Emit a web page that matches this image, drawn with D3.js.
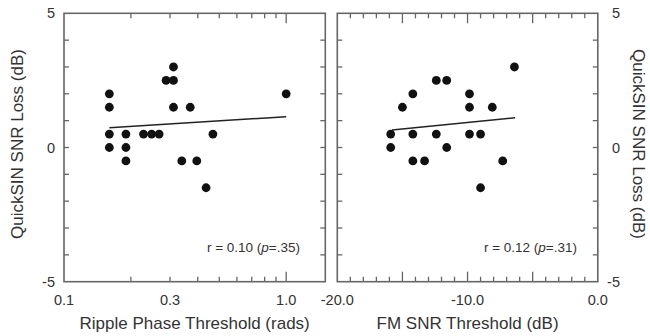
<!DOCTYPE html>
<html><head><meta charset="utf-8">
<script src="https://cdn.jsdelivr.net/npm/d3@7"></script>
<style>
body{margin:0;background:#fff;}
text{font-family:"Liberation Sans",Arial,sans-serif;fill:#333;}
</style></head>
<body>
<svg id="chart" width="650" height="336"></svg>
<script>
// Left panel: Ripple Phase Threshold (rads), log scale
const rippleX = [0.160,0.160,0.160,0.160,0.190,0.190,0.190,0.228,0.248,0.268,0.288,0.311,0.311,0.311,0.370,0.339,0.396,0.436,0.468,1.0];
const rippleY = [2.0,1.5,0.5,0.0,0.5,0.0,-0.5,0.5,0.5,0.5,2.5,2.5,3.0,1.5,1.5,-0.5,-0.5,-1.5,0.5,2.0];
const rippleFitX = [0.16,1.0];
const rippleFitY = [0.74,1.15];
const rippleTicks = [0.2,0.3,0.4,0.5,0.6,0.7,0.8,0.9,1.0];
const rippleMajor = [1.0];
const rippleLabels = [0.1,0.3,1.0];
const rippleStat = "r = 0.10 (";
const rippleP = "=.35)";

// Right panel: FM SNR Threshold (dB), linear
const fmX = [-15.9,-15.9,-15.0,-14.2,-14.2,-14.2,-13.3,-12.4,-12.4,-11.6,-11.6,-9.85,-9.85,-9.85,-9.0,-9.0,-8.1,-7.3,-6.4];
const fmY = [0.5,0.0,1.5,2.0,0.5,-0.5,-0.5,2.5,0.5,2.5,0.0,2.0,1.5,0.5,0.5,-1.5,1.5,-0.5,3.0];
const fmFitX = [-15.8,-6.35];
const fmFitY = [0.65,1.11];
const fmTicks = [-19,-18,-17,-16,-15,-14,-13,-12,-11,-10,-9,-8,-7,-6,-5,-4,-3,-2,-1];
const fmMajor = [-15,-10,-5];
const fmLabels = [-20,-10,0];
const fmStat = "r = 0.12 (";
const fmP = "=.31)";

const yTicks = [-4,-3,-2,-1,0,1,2,3,4];
const yLabels = [-5,0,5];
const yTitle = "QuickSIN SNR Loss (dB)";
const xTitleLeft = "Ripple Phase Threshold (rads)";
const xTitleRight = "FM SNR Threshold (dB)";

const svg = d3.select("#chart");
const plotTop = 13.3, plotBottom = 281.7;
const y = d3.scaleLinear().domain([-5,5]).range([plotBottom, plotTop]);

const xL = d3.scaleLog().domain([0.1,1.5]).range([64,325.3]);
const xR = d3.scaleLinear().domain([-20,0]).range([337.3,597.8]);

const frameColor = "#666";

function panel(x, xs, ys, fitX, fitY, ticks, major, labels, fmt, stat, pstr, xTitle, statX) {
  const [x0,x1] = x.range();
  const g = svg.append("g");
  g.append("rect").attr("x",x0).attr("y",plotTop).attr("width",x1-x0).attr("height",plotBottom-plotTop)
    .attr("fill","none").attr("stroke",frameColor).attr("stroke-width",1.6);
  ticks.forEach(t=>{
    const len = major.includes(t) ? 10 : 5;
    g.append("line").attr("x1",x(t)).attr("x2",x(t)).attr("y1",plotTop).attr("y2",plotTop+len)
      .attr("stroke",frameColor).attr("stroke-width",1.3);
    g.append("line").attr("x1",x(t)).attr("x2",x(t)).attr("y1",plotBottom).attr("y2",plotBottom-len)
      .attr("stroke",frameColor).attr("stroke-width",1.3);
  });
  yTicks.forEach(t=>{
    g.append("line").attr("x1",x0).attr("x2",x0+5).attr("y1",y(t)).attr("y2",y(t))
      .attr("stroke",frameColor).attr("stroke-width",1.3);
    g.append("line").attr("x1",x1).attr("x2",x1-5).attr("y1",y(t)).attr("y2",y(t))
      .attr("stroke",frameColor).attr("stroke-width",1.3);
  });
  labels.forEach(l=>{
    g.append("text").attr("x",x(l)).attr("y",305).attr("text-anchor","middle")
      .attr("font-size",14.5).text(fmt(l));
  });
  g.append("text").attr("x",(x0+x1)/2).attr("y",329).attr("text-anchor","middle")
    .attr("font-size",17).text(xTitle);
  g.append("line").attr("x1",x(fitX[0])).attr("y1",y(fitY[0])).attr("x2",x(fitX[1])).attr("y2",y(fitY[1]))
    .attr("stroke","#222").attr("stroke-width",1.5);
  g.selectAll("circle.d").data(xs.map((v,i)=>[v,ys[i]])).enter().append("circle")
    .attr("cx",d=>x(d[0])).attr("cy",d=>y(d[1])).attr("r",4.4).attr("fill","#111");
  const st = g.append("text").attr("x",statX).attr("y",252).attr("text-anchor","end").attr("font-size",13.5);
  st.append("tspan").text(stat);
  st.append("tspan").attr("font-style","italic").text("p");
  st.append("tspan").text(pstr);
}

panel(xL, rippleX, rippleY, rippleFitX, rippleFitY, rippleTicks, rippleMajor, rippleLabels,
      d=>d3.format(".1f")(d), rippleStat, rippleP, xTitleLeft, 300);
panel(xR, fmX, fmY, fmFitX, fmFitY, fmTicks, fmMajor, fmLabels,
      d=>d3.format(".1f")(d).replace("\u2212","-"), fmStat, fmP, xTitleRight, 577);

yLabels.forEach(l=>{
  svg.append("text").attr("x",55).attr("y",y(l)).attr("dy","0.35em").attr("text-anchor","end")
    .attr("font-size",14.5).text(l);
  svg.append("text").attr("x",620).attr("y",y(l)).attr("dy","0.35em").attr("text-anchor","end")
    .attr("font-size",14.5).text(l);
});
svg.append("text").attr("transform","translate(23,144) rotate(-90)").attr("text-anchor","middle")
  .attr("font-size",17).text(yTitle);
svg.append("text").attr("transform","translate(633,144) rotate(90)").attr("text-anchor","middle")
  .attr("font-size",17).text(yTitle);
</script>
</body></html>
